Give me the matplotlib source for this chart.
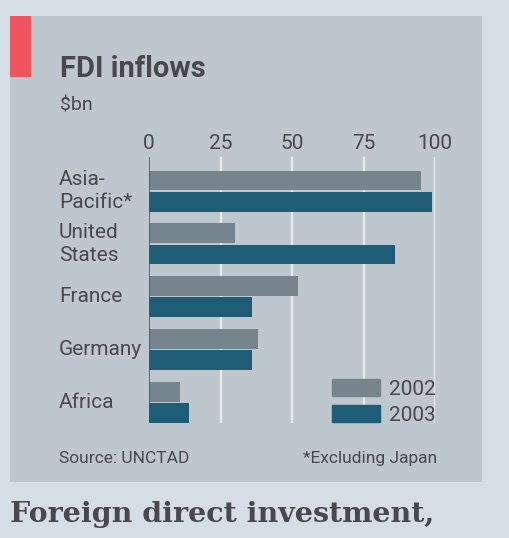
import matplotlib.pyplot as plt
from matplotlib.patches import Rectangle, Patch

# FDI inflows, $bn
regions = ["Asia-\nPacific*", "United\nStates", "France", "Germany", "Africa"]
inflows_2002 = [95, 30, 52, 38, 11]
inflows_2003 = [99, 86, 36, 36, 14]
years = ["2002", "2003"]
ticks = [0, 25, 50, 75, 100]

W, H = 510, 538
bg = "#d5dee4"
panel = "#bfc7ce"
ink = "#48484d"
c2002 = "#76848e"
c2003 = "#1f5c76"

plt.rcParams["font.family"] = ["Roboto", "DejaVu Sans"]


def px(x, y):
    # pixel position -> figure fraction (origin at top left)
    return x / W, 1 - y / H


fig = plt.figure(figsize=(W / 100, H / 100), dpi=100, facecolor=bg)

# grey panel and red tag, kept behind the axes
fig.patches.append(Rectangle(px(10, 482), 472 / W, 466 / H, transform=fig.transFigure,
                             facecolor=panel, edgecolor="none", zorder=-2))
fig.patches.append(Rectangle(px(10, 77), 21 / W, 61 / H, transform=fig.transFigure,
                             facecolor="#f0555f", edgecolor="none", zorder=-1))

# axes spans x 0..100 over the plot area
left, top = px(149, 157)
right, bottom = px(435, 423)
ax = fig.add_axes([left, bottom, right - left, top - bottom])
ax.set_facecolor("none")

pos = list(range(len(regions)))
h = 0.375
off = 0.2
ax.barh([p - off for p in pos], inflows_2002, height=h, color=c2002, zorder=3)
ax.barh([p + off for p in pos], inflows_2003, height=h, color=c2003, zorder=3)

ax.set_xlim(0, 100)
ax.set_ylim(4.386, -0.643)

for t in ticks[1:]:
    ax.axvline(t, color="#e6ebee", lw=1.6, zorder=1)
ax.axvline(0, color="#505055", lw=1.1, zorder=4)

ax.xaxis.tick_top()
ax.set_xticks(ticks)
ax.set_xticklabels([str(t) for t in ticks], fontsize=15, color=ink)
ax.tick_params(axis="x", length=0, pad=3)
ax.set_yticks([])
for s in ax.spines.values():
    s.set_visible(False)

# region labels, left aligned
for p, name in zip(pos, regions):
    ax.text(-0.3147, p, name, transform=ax.get_yaxis_transform(), ha="left",
            va="center", fontsize=15, color=ink, linespacing=1.25)

ax.legend(handles=[Patch(color=c2002), Patch(color=c2003)], labels=years,
          loc="upper left", bbox_to_anchor=((322 - 149) / 286, (423 - 369) / 266),
          frameon=False, fontsize=15, handlelength=2.3, handleheight=0.85,
          handletextpad=0.4, labelspacing=0.3, borderpad=0, labelcolor=ink)

fig.text(*px(60, 77), "FDI inflows", fontsize=21, fontweight="bold", color=ink,
         va="baseline")
fig.text(*px(60, 110), "$bn", fontsize=14, color=ink, va="baseline")
fig.text(*px(59, 463), "Source: UNCTAD", fontsize=12.5, color=ink, va="baseline")
fig.text(*px(437, 463), "*Excluding Japan", fontsize=12.5, color=ink, va="baseline",
         ha="right")
fig.text(*px(10, 522), "Foreign direct investment,", fontsize=20.5, fontweight="bold",
         color=ink, va="baseline", family=["DejaVu Serif"])

fig.savefig("out.png", dpi=100, facecolor=bg)
